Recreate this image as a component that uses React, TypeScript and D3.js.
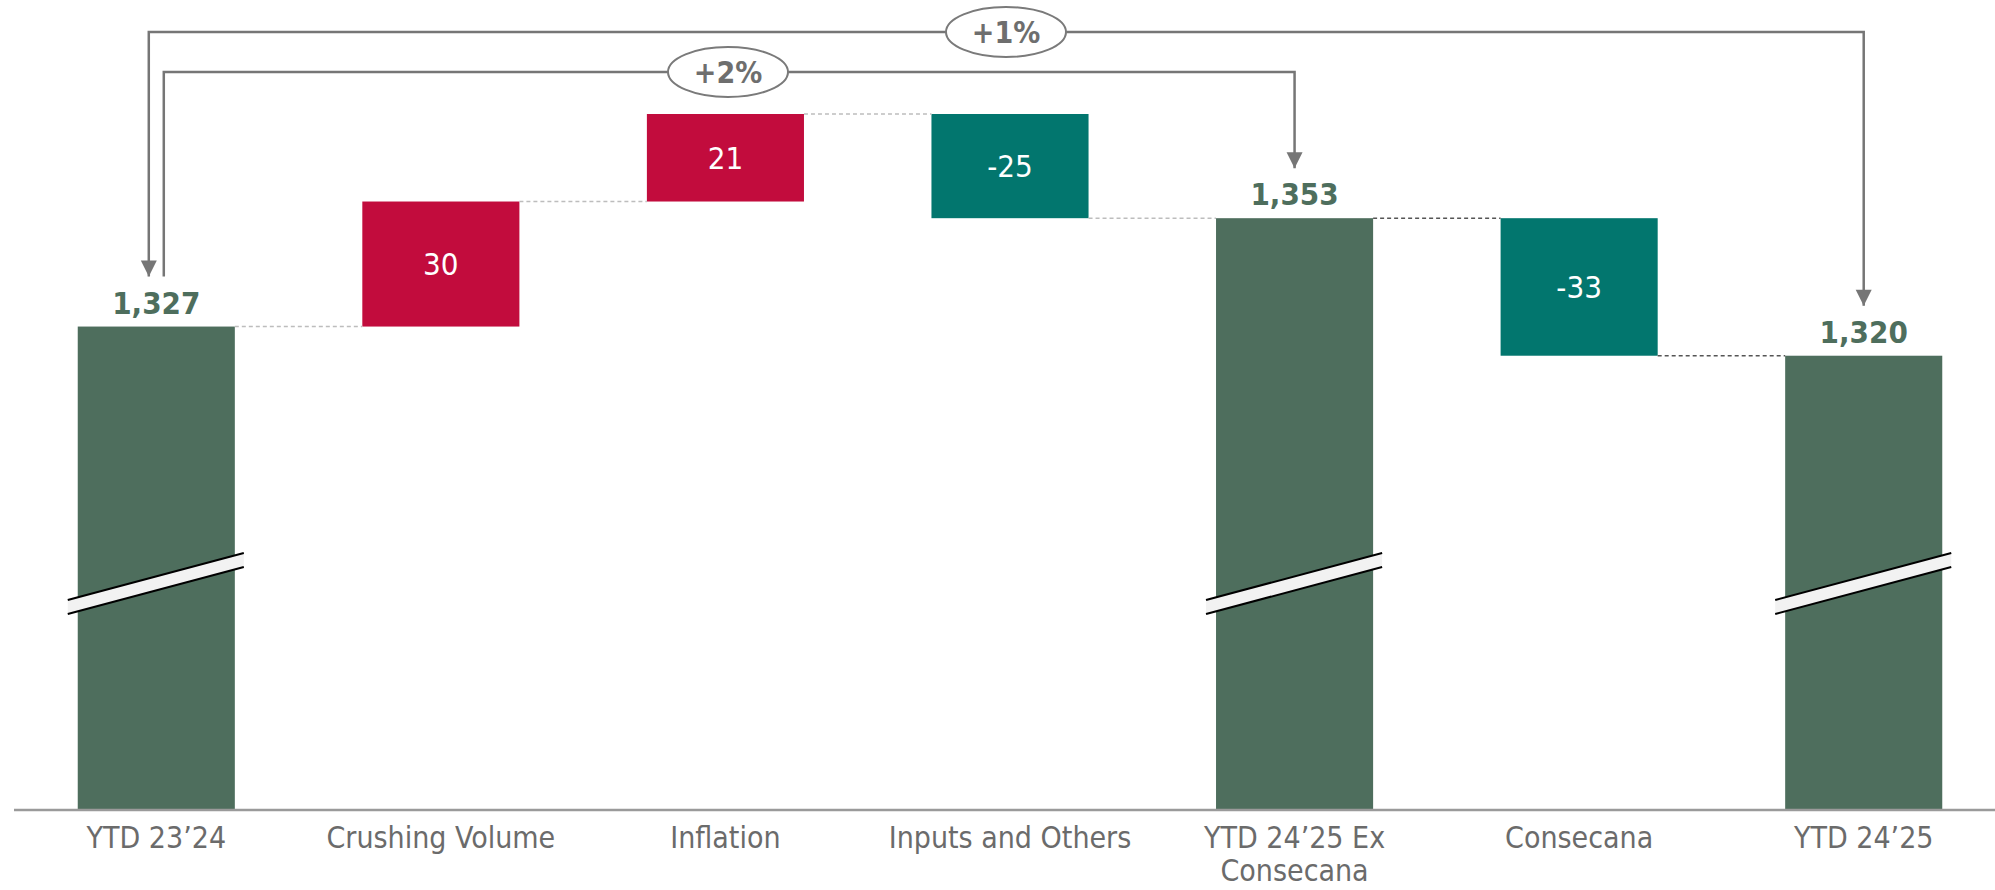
import * as d3 from "d3";

// waterfall data (R$/ton style bridge)
const categories = [
  "YTD 23’24",
  "Crushing Volume",
  "Inflation",
  "Inputs and Others",
  "YTD 24’25 Ex Consecana",
  "Consecana",
  "YTD 24’25",
];
const labelLines = [
  ["YTD 23’24"],
  ["Crushing Volume"],
  ["Inflation"],
  ["Inputs and Others"],
  ["YTD 24’25 Ex", "Consecana"],
  ["Consecana"],
  ["YTD 24’25"],
];
const values = [1327, 30, 21, -25, 1353, -33, 1320];
const kinds = ["total", "delta", "delta", "delta", "total", "delta", "total"];

const brackets = [
  { from: 0, to: 4, label: "+2%" },
  { from: 0, to: 6, label: "+1%" },
];

const W = 1995;
const H = 890;
const FONT = "'DejaVu Sans Condensed', 'DejaVu Sans', sans-serif";

const GREEN = "#4e6e5d";
const RED = "#c20c3d";
const TEAL = "#02766e";
const GREY = "#767676";

export default function App() {
  const x = d3
    .scaleBand<string>()
    .domain(categories)
    .range([14, 2006])
    .paddingInner(0.448)
    .paddingOuter(0.224);
  // broken axis: the baseline is not zero
  const y = d3.scaleLinear().domain([1211, 1378]).range([810, 114]);
  const bw = x.bandwidth();

  // running levels
  let run = 0;
  const bars = categories.map((c, i) => {
    const v = values[i];
    let y0: number, y1: number;
    if (kinds[i] === "total") {
      run = v;
      y0 = 1211;
      y1 = v;
    } else {
      y0 = run;
      y1 = run + v;
      run = y1;
    }
    return { c, i, v, y0, y1, kind: kinds[i] };
  });

  const fill = (b: (typeof bars)[number]) =>
    b.kind === "total" ? GREEN : b.v >= 0 ? RED : TEAL;

  const cx = (i: number) => (x(categories[i]) as number) + bw / 2;
  const topOf = (i: number) => y(Math.max(bars[i].y0, bars[i].y1));

  return (
    <svg
      width={W}
      height={H}
      style={{ position: "absolute", left: 0, top: 0, background: "#fff" }}
      fontFamily={FONT}
    >
      {/* bars */}
      {bars.map((b) => (
        <rect
          key={b.c}
          x={x(b.c)}
          width={bw}
          y={y(Math.max(b.y0, b.y1))}
          height={Math.abs(y(b.y0) - y(b.y1))}
          fill={fill(b)}
        />
      ))}

      {/* connectors */}
      {bars.slice(0, -1).map((b, i) => {
        const x1 = (x(b.c) as number) + bw;
        const x2 = x(categories[i + 1]) as number;
        return (
          <line
            key={"c" + i}
            x1={x1}
            x2={x2}
            y1={y(b.y1)}
            y2={y(b.y1)}
            stroke={i >= 4 ? "#555" : "#bdbdbd"}
            strokeWidth={1.5}
            strokeDasharray="4 3"
          />
        );
      })}

      {/* axis line */}
      <line x1={14} x2={W} y1={y(1211)} y2={y(1211)} stroke="#9a9a9a" strokeWidth={2.5} />

      {/* break marks on totals */}
      {bars
        .filter((b) => b.kind === "total")
        .map((b) => {
          const l = (x(b.c) as number) - 10;
          const r = (x(b.c) as number) + bw + 9;
          return (
            <g key={"br" + b.c}>
              <polygon
                points={`${l},600 ${r},553 ${r},567 ${l},614`}
                fill="#f2f2f2"
              />
              <line x1={l} y1={600} x2={r} y2={553} stroke="#000" strokeWidth={2} />
              <line x1={l} y1={614} x2={r} y2={567} stroke="#000" strokeWidth={2} />
            </g>
          );
        })}

      {/* value labels */}
      {bars.map((b) =>
        b.kind === "total" ? (
          <text
            key={"v" + b.c}
            x={cx(b.i)}
            y={y(b.y1) - 13}
            textAnchor="middle"
            fontSize={31}
            fontWeight="bold"
            fill={GREEN}
          >
            {d3.format(",")(b.v)}
          </text>
        ) : (
          <text
            key={"v" + b.c}
            x={cx(b.i)}
            y={(y(b.y0) + y(b.y1)) / 2}
            dy="0.36em"
            textAnchor="middle"
            fontSize={31}
            fill="#fff"
          >
            {String(b.v)}
          </text>
        )
      )}

      {/* category labels */}
      {labelLines.map((lines, i) => (
        <text
          key={"l" + i}
          x={cx(i)}
          y={848}
          textAnchor="middle"
          fontSize={30}
          fill="#6b6b6b"
        >
          {lines.map((t, k) => (
            <tspan key={k} x={cx(i)} dy={k === 0 ? 0 : 33}>
              {t}
            </tspan>
          ))}
        </text>
      ))}

      {/* comparison brackets */}
      {brackets.map((bk, k) => {
        const level = k === 0 ? 72 : 32;
        const xl = cx(bk.from) + (k === 0 ? 7.5 : -7.5);
        const xr = cx(bk.to);
        const tipL = topOf(bk.from) - 50;
        const tipR = topOf(bk.to) - 50;
        const ex = k === 0 ? 728 : 1006;
        return (
          <g key={"bk" + k}>
            <path
              d={`M${xl},${tipL} V${level} H${xr} V${tipR}`}
              fill="none"
              stroke={GREY}
              strokeWidth={2.5}
            />
            {/* arrowheads */}
            <path
              d={`M${xr - 8},${tipR - 16} L${xr + 8},${tipR - 16} L${xr},${tipR} Z`}
              fill={GREY}
            />
            {k === 1 && (
              <path
                d={`M${xl - 8},${tipL - 16} L${xl + 8},${tipL - 16} L${xl},${tipL} Z`}
                fill={GREY}
              />
            )}
            <ellipse
              cx={ex}
              cy={level}
              rx={60}
              ry={25}
              fill="#fff"
              stroke="#7a7a7a"
              strokeWidth={2}
            />
            <text
              x={ex}
              y={level}
              dy="0.36em"
              textAnchor="middle"
              fontSize={30}
              fontWeight="bold"
              fill="#6e6e6e"
            >
              {bk.label}
            </text>
          </g>
        );
      })}
    </svg>
  );
}
